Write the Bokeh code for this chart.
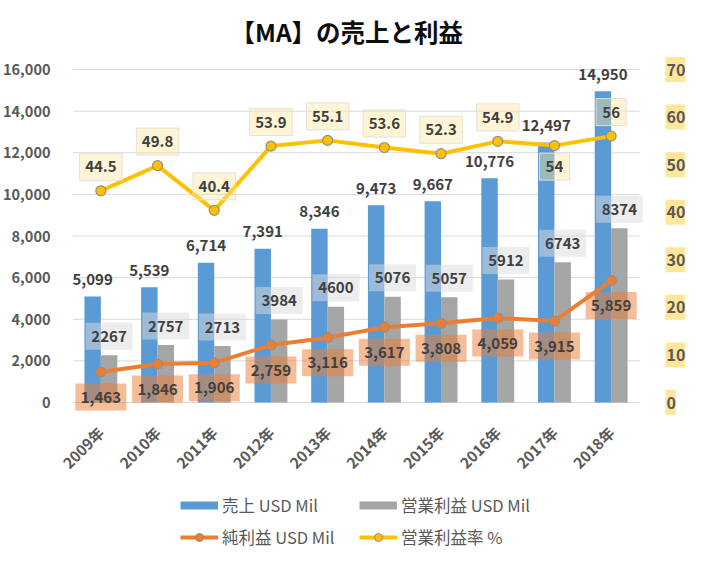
import math
from bokeh.plotting import figure
from bokeh.layouts import column
from bokeh.models import (ColumnDataSource, Range1d, FixedTicker, NumeralTickFormatter,
                          LabelSet, Legend, LegendItem)
from bokeh.core.properties import value
from bokeh.transform import dodge
from bokeh.embed import file_html
from bokeh.resources import INLINE

# ---------------- data ----------------
years = ["2009年", "2010年", "2011年", "2012年", "2013年",
         "2014年", "2015年", "2016年", "2017年", "2018年"]
revenue = [5099, 5539, 6714, 7391, 8346, 9473, 9667, 10776, 12497, 14950]
op_income = [2267, 2757, 2713, 3984, 4600, 5076, 5057, 5912, 6743, 8374]
net_income = [1463, 1846, 1906, 2759, 3116, 3617, 3808, 4059, 3915, 5859]
op_margin = [44.5, 49.8, 40.4, 53.9, 55.1, 53.6, 52.3, 54.9, 54, 56]

left_ticks = [0, 2000, 4000, 6000, 8000, 10000, 12000, 14000, 16000]
right_ticks = [0, 10, 20, 30, 40, 50, 60, 70]

title_text = "【MA】の売上と利益"
legend_labels = ["売上 USD Mil", "営業利益 USD Mil", "純利益 USD Mil", "営業利益率 %"]
margin_label_side = ["above"] * 8 + ["below", "above"]

# ---------------- styles / geometry ----------------
FONT = "Noto Sans CJK JP"
BLUE = "#5B9BD5"
GRAY = "#A5A5A5"
ORANGE = "#ED7D31"
YELLOW = "#FFC000"
AXIS_TXT = "#595959"
LBL_TXT = "#404040"
W = 686
CAT_PX = 56.7          # pixels per category
SPAN_PX = 333          # pixels from 0 to the top tick
TOP_PAD = 16           # frame space above the top tick
BOT_PAD = 16           # frame space below zero
FRAME_H = SPAN_PX + TOP_PAD + BOT_PAD
FRAME_W = 614
LEFT_B = 72
BOTTOM_B = 58
TITLE_H = 53
LEGEND_H = 70

UY = left_ticks[-1] / SPAN_PX      # data units per pixel (left axis)
UP = right_ticks[-1] / SPAN_PX     # data units per pixel (right axis)
x_start = -0.5
x_end = -0.5 + FRAME_W / CAT_PX

idx = list(range(len(years)))


def box_w(s):
    d = sum(c.isdigit() for c in s)
    return 8.5 * d + 4 * (len(s) - d) + 13


op_lbl = [str(v) for v in op_income]
net_lbl = [f"{v:,}" for v in net_income]
mar_lbl = [f"{v:g}" for v in op_margin]
mar_off = [24 if s == "above" else -21 for s in margin_label_side]

src = ColumnDataSource(dict(
    idx=idx, revenue=revenue, op=op_income, net=net_income, margin=op_margin,
    revenue_lbl=[f"{v:,}" for v in revenue],
    op_lbl=op_lbl, op_y=[v + 19 * UY for v in op_income], op_w=[box_w(s) for s in op_lbl],
    net_lbl=net_lbl, net_y=[v - 25 * UY for v in net_income], net_w=[box_w(s) for s in net_lbl],
    mar_lbl=mar_lbl, mar_y=[v + o * UP for v, o in zip(op_margin, mar_off)],
    mar_w=[box_w(s) for s in mar_lbl],
))

r_lbl = [str(t) for t in right_ticks]
r_left = len(years) - 0.5 + 27 / CAT_PX
r_w = [9.3 * len(s) + 1 for s in r_lbl]
rsrc = ColumnDataSource(dict(
    tick=right_ticks, lbl=r_lbl, w=r_w,
    bx=[r_left + (w / 2 - 1) / CAT_PX for w in r_w],
))

# ---------------- title strip ----------------
tfig = figure(width=W, height=TITLE_H, x_axis_type=None, y_axis_type=None,
              toolbar_location=None, output_backend="svg",
              min_border_left=0, min_border_right=0, min_border_bottom=0,
              min_border_top=TITLE_H - 1)
tfig.outline_line_color = None
tfig.title.text = title_text
tfig.title.align = "left"
tfig.title.offset = 158
tfig.title.text_font = FONT
tfig.title.text_font_size = "24.5px"
tfig.title.text_font_style = "bold"
tfig.title.text_color = "#0D0D0D"
tfig.title.standoff = 8

# ---------------- main chart ----------------
p = figure(x_range=Range1d(x_start, x_end),
           y_range=Range1d(-BOT_PAD * UY, left_ticks[-1] + TOP_PAD * UY),
           frame_width=FRAME_W, frame_height=FRAME_H, output_backend="svg",
           toolbar_location=None, min_border_left=LEFT_B, min_border_right=0,
           min_border_top=0, min_border_bottom=BOTTOM_B)
p.extra_y_ranges = {"pct": Range1d(-BOT_PAD * UP, right_ticks[-1] + TOP_PAD * UP)}
p.outline_line_color = None
p.xgrid.grid_line_color = None
p.ygrid.grid_line_color = None

# horizontal grid lines over the category span
p.segment(x0=-0.5, x1=len(years) - 0.5, y0=left_ticks, y1=left_ticks,
          line_color="#D9D9D9", line_width=1, level="underlay")

# bars
bw = 0.29
p.vbar(x=dodge("idx", -bw / 2), top="revenue", width=bw, source=src,
       fill_color=BLUE, line_color=None)
p.vbar(x=dodge("idx", bw / 2), top="op", width=bw, source=src,
       fill_color=GRAY, line_color=None)

# lines
p.line(x="idx", y="net", source=src, line_color=ORANGE, line_width=4)
p.scatter(x="idx", y="net", source=src, size=10, fill_color=ORANGE,
          line_color="#8F8F8F", line_width=1.2)
p.line(x="idx", y="margin", source=src, line_color=YELLOW, line_width=4, y_range_name="pct")
p.scatter(x="idx", y="margin", source=src, size=10, fill_color=YELLOW,
          line_color="#8F8F8F", line_width=1.2, y_range_name="pct")

# label boxes
p.rect(x=dodge("idx", bw / 2), y="op_y", width="op_w", height=27, width_units="screen",
       height_units="screen", source=src, fill_color="#DBDBDB", fill_alpha=0.5,
       line_color=None)
p.rect(x="idx", y="net_y", width="net_w", height=27, width_units="screen",
       height_units="screen", source=src, fill_color=ORANGE, fill_alpha=0.5,
       line_color=None)
p.rect(x="idx", y="mar_y", width="mar_w", height=27, width_units="screen",
       height_units="screen", source=src, fill_color="#FFE699", fill_alpha=0.4,
       line_color="#E3E0D8", line_width=1, y_range_name="pct")
p.rect(x="bx", y="tick", width="w", height=25, width_units="screen", height_units="screen",
       source=rsrc, fill_color="#FFE699", line_color=None, y_range_name="pct")

# axes
p.yaxis.ticker = FixedTicker(ticks=left_ticks)
p.yaxis.formatter = NumeralTickFormatter(format="0,0")
p.yaxis.axis_line_color = None
p.yaxis.major_tick_line_color = None
p.yaxis.minor_tick_line_color = None
p.yaxis.major_label_text_font = FONT
p.yaxis.major_label_text_font_size = "14.5px"
p.yaxis.major_label_text_font_style = "bold"
p.yaxis.major_label_text_color = AXIS_TXT
p.yaxis.major_label_standoff = 16

p.xaxis.ticker = FixedTicker(ticks=idx)
p.xaxis.major_label_overrides = {i: y for i, y in zip(idx, years)}
p.xaxis.axis_line_color = None
p.xaxis.major_tick_line_color = None
p.xaxis.minor_tick_line_color = None
p.xaxis.major_label_orientation = math.pi / 4
p.xaxis.major_label_text_font = FONT
p.xaxis.major_label_text_font_size = "15px"
p.xaxis.major_label_text_font_style = "bold"
p.xaxis.major_label_text_color = AXIS_TXT
p.xaxis.major_label_standoff = 5

common = dict(text_align="center", text_baseline="middle", text_font=value(FONT),
              text_font_size="15px", text_font_style="bold", text_color=LBL_TXT)

# right (percent) scale labels
p.add_layout(LabelSet(x=r_left, y="tick", text="lbl", source=rsrc, y_range_name="pct",
                      text_align="left", text_baseline="middle", text_font=value(FONT),
                      text_font_size="16px", text_font_style="bold", text_color=AXIS_TXT))

# data labels
p.add_layout(LabelSet(x=dodge("idx", -bw / 2), y="revenue", text="revenue_lbl", source=src,
                      y_offset=17, **common))
p.add_layout(LabelSet(x=dodge("idx", bw / 2), y="op_y", text="op_lbl", source=src, **common))
p.add_layout(LabelSet(x="idx", y="net_y", text="net_lbl", source=src, **common))
p.add_layout(LabelSet(x="idx", y="mar_y", text="mar_lbl", source=src, y_range_name="pct",
                      **common))

# ---------------- legend strip ----------------
# the series are drawn here only as legend keys (the data lie outside this strip's ranges)
lg = figure(width=W, height=LEGEND_H, x_range=Range1d(0, 1), y_range=Range1d(-2, -1),
            x_axis_type=None, y_axis_type=None, toolbar_location=None,
            output_backend="svg", min_border=0)
lg.outline_line_color = None
lg.xgrid.grid_line_color = None
lg.ygrid.grid_line_color = None
s1 = lg.line(x="idx", y="revenue", source=src, line_color=BLUE, line_width=8)
s2 = lg.line(x="idx", y="op", source=src, line_color=GRAY, line_width=8)
s3 = lg.line(x="idx", y="net", source=src, line_color=ORANGE, line_width=4)
s3m = lg.scatter(x="idx", y="net", source=src, fill_color=ORANGE, line_color="#8F8F8F", size=9)
s4 = lg.line(x="idx", y="margin", source=src, line_color=YELLOW, line_width=4)
s4m = lg.scatter(x="idx", y="margin", source=src, fill_color=YELLOW, line_color="#8F8F8F",
                 size=9)
legend = Legend(items=[
    LegendItem(label=legend_labels[0], renderers=[s1]),
    LegendItem(label=legend_labels[1], renderers=[s2]),
    LegendItem(label=legend_labels[2], renderers=[s3, s3m]),
    LegendItem(label=legend_labels[3], renderers=[s4, s4m]),
], orientation="horizontal", ncols=2, location=(108, 3))
legend.label_text_font = FONT
legend.label_text_font_size = "16.5px"
legend.label_text_color = AXIS_TXT
legend.glyph_width = 38
legend.glyph_height = 20
legend.label_standoff = 4
legend.label_width = 129
legend.label_height = 20
legend.spacing = 8
legend.border_line_color = None
legend.background_fill_alpha = 0
legend.padding = 4
legend.margin = 0
lg.add_layout(legend)

layout = column(tfig, p, lg)
open("out.html", "w").write(file_html(layout, INLINE))
